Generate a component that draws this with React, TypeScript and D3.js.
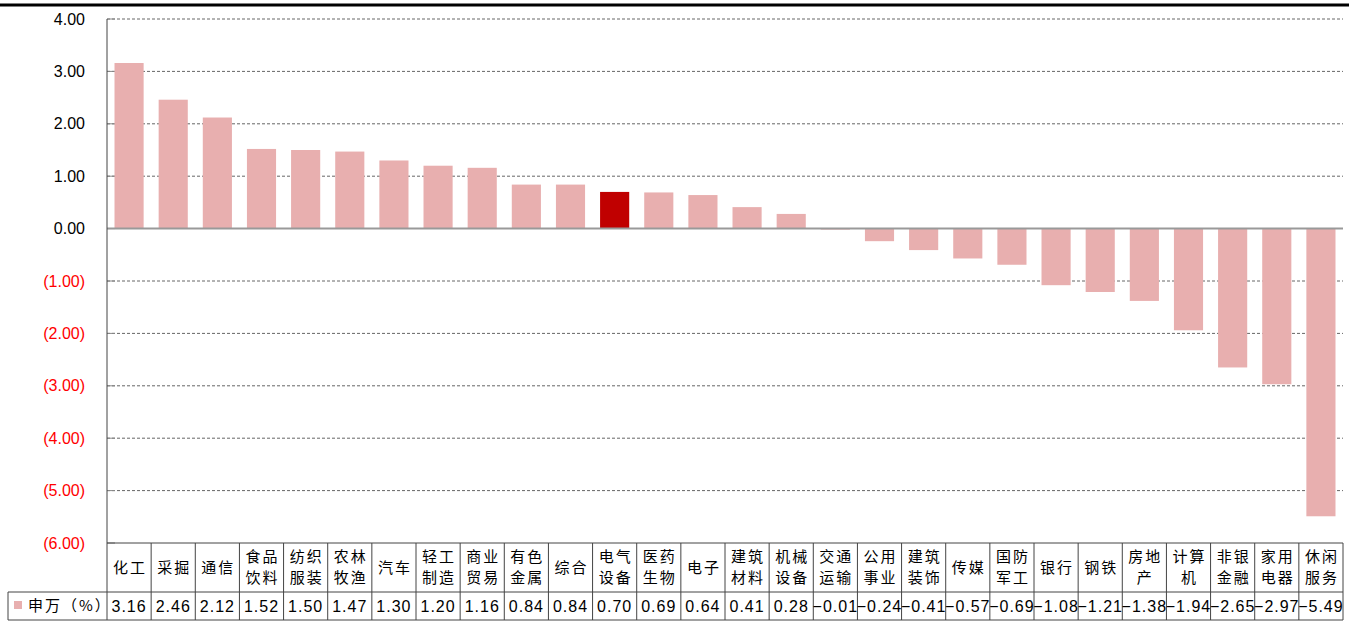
import React, { useEffect, useRef } from 'react'
import * as d3 from 'd3'

const categories = ['化工', '采掘', '通信', '食品饮料', '纺织服装', '农林牧渔', '汽车', '轻工制造', '商业贸易', '有色金属', '综合', '电气设备', '医药生物', '电子', '建筑材料', '机械设备', '交通运输', '公用事业', '建筑装饰', '传媒', '国防军工', '银行', '钢铁', '房地产', '计算机', '非银金融', '家用电器', '休闲服务']
const values = [3.16, 2.46, 2.12, 1.52, 1.50, 1.47, 1.30, 1.20, 1.16, 0.84, 0.84, 0.70, 0.69, 0.64, 0.41, 0.28, -0.01, -0.24, -0.41, -0.57, -0.69, -1.08, -1.21, -1.38, -1.94, -2.65, -2.97, -5.49]
const highlight = '电气设备'
const yTicks = [4, 3, 2, 1, 0, -1, -2, -3, -4, -5, -6]
const seriesName = '申万（%）'

const W = 1355
const H = 627

function splitName(s: string): string[] {
  if (s.length <= 2) return [s]
  return [s.slice(0, 2), s.slice(2)]
}

function fmtTick(v: number) {
  return v < 0 ? '(' + Math.abs(v).toFixed(2) + ')' : v.toFixed(2)
}

export default function App() {
  const ref = useRef<SVGSVGElement>(null)

  useEffect(() => {
    const svg = d3.select(ref.current)
    svg.selectAll('*').remove()

    const left = 107, right = 1343, top = 19, bottom = 543
    const rowMid = 592, rowBot = 620, tableLeft = 8

    const x = d3.scaleBand().domain(categories).range([left, right]).paddingInner(0.34).paddingOuter(0.17)
    const y = d3.scaleLinear().domain([-6, 4]).range([bottom, top])

    // top rule
    svg.append('line').attr('x1', 0).attr('x2', 1349).attr('y1', 5).attr('y2', 5)
      .attr('stroke', '#000').attr('stroke-width', 3)

    // grid
    svg.append('g').selectAll('line').data(yTicks.filter(t => t !== 0 && t !== -6)).enter().append('line')
      .attr('x1', left).attr('x2', right).attr('y1', d => y(d)).attr('y2', d => y(d))
      .attr('stroke', '#666').attr('stroke-dasharray', '3,2').attr('stroke-width', 1)

    // y labels
    svg.append('g').selectAll('text').data(yTicks).enter().append('text')
      .attr('x', 85).attr('y', d => y(d)).attr('dy', '0.35em').attr('text-anchor', 'end')
      .attr('font-family', 'Liberation Sans, Arial, sans-serif').attr('font-size', 16)
      .attr('fill', d => d < 0 ? '#FF0000' : '#000').text(d => fmtTick(d))

    // tick marks
    svg.append('g').selectAll('line').data(yTicks).enter().append('line')
      .attr('x1', left).attr('x2', left + 8).attr('y1', d => y(d)).attr('y2', d => y(d))
      .attr('stroke', '#888').attr('stroke-width', 1)

    // bars
    svg.append('g').selectAll('rect').data(values).enter().append('rect')
      .attr('x', (d, i) => x(categories[i])!)
      .attr('width', x.bandwidth())
      .attr('y', d => y(Math.max(0, d)))
      .attr('height', d => Math.max(1, Math.abs(y(d) - y(0))))
      .attr('fill', (d, i) => categories[i] === highlight ? '#C00000' : '#E8AFAF')

    // zero line
    svg.append('line').attr('x1', left).attr('x2', right).attr('y1', y(0)).attr('y2', y(0))
      .attr('stroke', '#999').attr('stroke-width', 2)

    // y axis
    svg.append('line').attr('x1', left).attr('x2', left).attr('y1', top).attr('y2', rowBot)
      .attr('stroke', '#444').attr('stroke-width', 1)

    // table
    const step = x.step()
    const t = svg.append('g')
    t.append('line').attr('x1', left).attr('x2', right).attr('y1', bottom).attr('y2', bottom).attr('stroke', '#444')
    t.append('line').attr('x1', tableLeft).attr('x2', right).attr('y1', rowMid).attr('y2', rowMid).attr('stroke', '#444')
    t.append('line').attr('x1', tableLeft).attr('x2', right).attr('y1', rowBot).attr('y2', rowBot).attr('stroke', '#444')
    t.append('line').attr('x1', tableLeft).attr('x2', tableLeft).attr('y1', rowMid).attr('y2', rowBot).attr('stroke', '#444')
    categories.forEach((c, i) => {
      const x1 = left + step * (i + 1)
      t.append('line').attr('x1', x1).attr('x2', x1).attr('y1', bottom).attr('y2', rowBot).attr('stroke', '#444')
    })

    const cx = (c: string) => x(c)! + x.bandwidth() / 2
    categories.forEach(c => {
      const parts = splitName(c)
      const tx = t.append('text').attr('text-anchor', 'middle')
        .attr('font-family', 'Noto Sans CJK SC, sans-serif').attr('font-size', 15).attr('fill', '#000')
        .attr('letter-spacing', 2)
      if (parts.length === 1) {
        tx.append('tspan').attr('x', cx(c) + 1).attr('y', (bottom + rowMid) / 2).attr('dy', '0.35em').text(parts[0])
      } else {
        tx.append('tspan').attr('x', cx(c) + 1).attr('y', bottom + 14).attr('dy', '0.35em').text(parts[0])
        tx.append('tspan').attr('x', cx(c) + 1).attr('y', bottom + 35).attr('dy', '0.35em').text(parts[1])
      }
    })

    t.selectAll('text.val').data(values).enter().append('text').attr('class', 'val')
      .attr('x', (d, i) => cx(categories[i])).attr('y', (rowMid + rowBot) / 2).attr('dy', '0.36em')
      .attr('text-anchor', 'middle').attr('font-family', 'Liberation Sans, Arial, sans-serif').attr('font-size', 16)
      .attr('letter-spacing', 1)
      .text(d => d.toFixed(2).replace('-', '−'))

    // legend
    t.append('rect').attr('x', 14).attr('y', 601).attr('width', 8).attr('height', 8).attr('fill', '#E8AFAF')
    t.append('text').attr('x', 28).attr('y', (rowMid + rowBot) / 2).attr('dy', '0.36em')
      .attr('font-family', 'Noto Sans CJK SC, sans-serif').attr('font-size', 15).attr('letter-spacing', 2)
      .text(seriesName)
  }, [])

  return (
    <div style={{ position: 'absolute', left: 0, top: 0, background: '#fff' }}>
      <svg ref={ref} width={W} height={H}></svg>
    </div>
  )
}
